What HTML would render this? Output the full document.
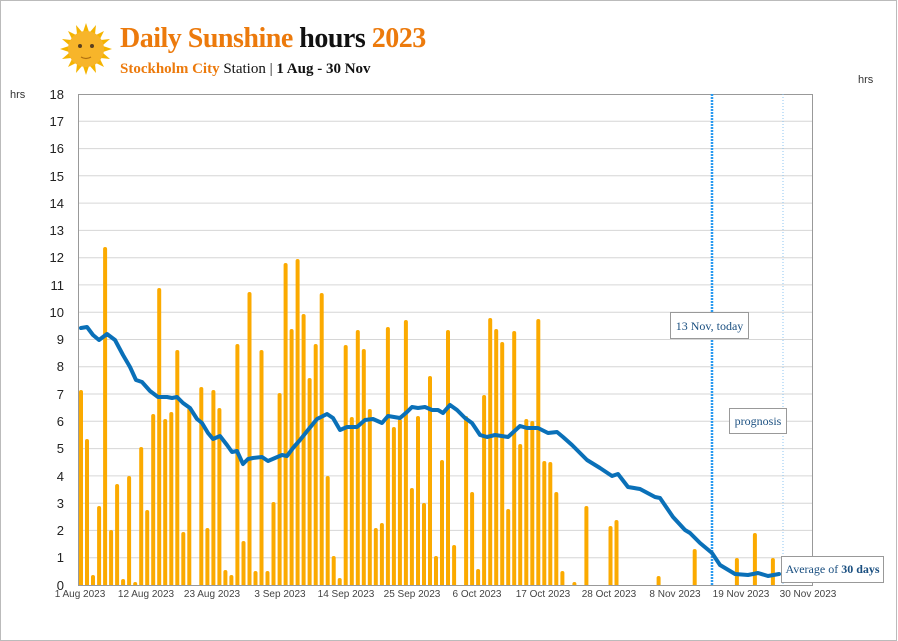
<!DOCTYPE html>
<html><head><meta charset="utf-8"><style>
html,body{margin:0;padding:0;background:#fff;}
svg{display:block;}
</style></head><body>
<svg width="898" height="641" viewBox="0 0 898 641" xmlns="http://www.w3.org/2000/svg">
<rect x="0.5" y="0.5" width="896" height="640" fill="#fff" stroke="#bbb"/>
<g transform="translate(86,49)">
<g fill="#F5B400">
<polygon points="0,-26 3,-17 -3,-17"/><polygon points="0,26 3,17 -3,17"/>
<polygon points="-26,0 -17,3 -17,-3"/><polygon points="26,0 17,3 17,-3"/>
<polygon points="18,-18 14,-10 10,-14"/><polygon points="-18,-18 -14,-10 -10,-14"/>
<polygon points="18,18 14,10 10,14"/><polygon points="-18,18 -14,10 -10,14"/>
<polygon points="10,-24 9,-15 4,-17"/><polygon points="-10,-24 -9,-15 -4,-17"/>
<polygon points="10,24 9,15 4,17"/><polygon points="-10,24 -9,15 -4,17"/>
<polygon points="24,10 15,9 17,4"/><polygon points="-24,10 -15,9 -17,4"/>
<polygon points="24,-10 15,-9 17,-4"/><polygon points="-24,-10 -15,-9 -17,-4"/>
</g>
<circle r="18" fill="#F7B52A"/>
<circle cx="-6" cy="-3" r="2" fill="#5a4020"/><circle cx="6" cy="-3" r="2" fill="#5a4020"/>
<path d="M-5,8 Q0,11 5,8" stroke="#b07010" fill="none" stroke-width="1.2"/>
</g>
<text x="120" y="47" font-family="Liberation Serif, serif" font-weight="bold" font-size="28" fill="#EC7A0C" letter-spacing="-0.5">Daily Sunshine <tspan fill="#111">hours</tspan> 2023</text>
<text x="120" y="73" font-family="Liberation Serif, serif" font-size="15" fill="#111"><tspan fill="#EC7A0C" font-weight="bold">Stockholm City</tspan> Station  |  <tspan font-weight="bold">1 Aug - 30 Nov</tspan></text>
<text x="10" y="98" font-family="Liberation Sans, sans-serif" font-size="11" fill="#333">hrs</text>
<text x="858" y="83" font-family="Liberation Sans, sans-serif" font-size="11" fill="#333">hrs</text>
<g stroke="#d6d6d6" stroke-width="1">
<line x1="78" x2="813" y1="557.7" y2="557.7"/><line x1="78" x2="813" y1="530.4" y2="530.4"/><line x1="78" x2="813" y1="503.2" y2="503.2"/><line x1="78" x2="813" y1="475.9" y2="475.9"/><line x1="78" x2="813" y1="448.6" y2="448.6"/><line x1="78" x2="813" y1="421.3" y2="421.3"/><line x1="78" x2="813" y1="394" y2="394"/><line x1="78" x2="813" y1="366.8" y2="366.8"/><line x1="78" x2="813" y1="339.5" y2="339.5"/><line x1="78" x2="813" y1="312.2" y2="312.2"/><line x1="78" x2="813" y1="284.9" y2="284.9"/><line x1="78" x2="813" y1="257.7" y2="257.7"/><line x1="78" x2="813" y1="230.4" y2="230.4"/><line x1="78" x2="813" y1="203.1" y2="203.1"/><line x1="78" x2="813" y1="175.8" y2="175.8"/><line x1="78" x2="813" y1="148.6" y2="148.6"/><line x1="78" x2="813" y1="121.3" y2="121.3"/>
</g>
<rect x="78.5" y="94.5" width="734" height="491" fill="none" stroke="#999"/>
<g font-family="Liberation Sans, sans-serif" font-size="13" fill="#222" text-anchor="end">
<text x="64" y="590">0</text><text x="64" y="562">1</text><text x="64" y="535">2</text><text x="64" y="508">3</text><text x="64" y="481">4</text><text x="64" y="453">5</text><text x="64" y="426">6</text><text x="64" y="399">7</text><text x="64" y="371">8</text><text x="64" y="344">9</text><text x="64" y="317">10</text><text x="64" y="290">11</text><text x="64" y="262">12</text><text x="64" y="235">13</text><text x="64" y="208">14</text><text x="64" y="181">15</text><text x="64" y="153">16</text><text x="64" y="126">17</text><text x="64" y="99">18</text>
</g>
<g font-family="Liberation Sans, sans-serif" font-size="10" fill="#444" text-anchor="middle">
<text x="80" y="597">1 Aug 2023</text><text x="146" y="597">12 Aug 2023</text><text x="212" y="597">23 Aug 2023</text><text x="280" y="597">3 Sep 2023</text><text x="346" y="597">14 Sep 2023</text><text x="412" y="597">25 Sep 2023</text><text x="477" y="597">6 Oct 2023</text><text x="543" y="597">17 Oct 2023</text><text x="609" y="597">28 Oct 2023</text><text x="675" y="597">8 Nov 2023</text><text x="741" y="597">19 Nov 2023</text><text x="808" y="597">30 Nov 2023</text>
</g>
<g stroke="#FBAA00" stroke-width="4" stroke-linecap="round">
<line x1="81" x2="81" y1="392" y2="585"/>
<line x1="87" x2="87" y1="441" y2="585"/>
<line x1="93" x2="93" y1="577" y2="585"/>
<line x1="99.1" x2="99.1" y1="508" y2="585"/>
<line x1="105.1" x2="105.1" y1="249" y2="585"/>
<line x1="111.1" x2="111.1" y1="532" y2="585"/>
<line x1="117.1" x2="117.1" y1="486" y2="585"/>
<line x1="123.1" x2="123.1" y1="581" y2="585"/>
<line x1="129.1" x2="129.1" y1="478" y2="585"/>
<line x1="135.2" x2="135.2" y1="584" y2="585"/>
<line x1="141.2" x2="141.2" y1="449" y2="585"/>
<line x1="147.2" x2="147.2" y1="512" y2="585"/>
<line x1="153.2" x2="153.2" y1="416" y2="585"/>
<line x1="159.2" x2="159.2" y1="290" y2="585"/>
<line x1="165.2" x2="165.2" y1="421" y2="585"/>
<line x1="171.3" x2="171.3" y1="414" y2="585"/>
<line x1="177.3" x2="177.3" y1="352" y2="585"/>
<line x1="183.3" x2="183.3" y1="534" y2="585"/>
<line x1="189.3" x2="189.3" y1="410" y2="585"/>
<line x1="201.3" x2="201.3" y1="389" y2="585"/>
<line x1="207.4" x2="207.4" y1="530" y2="585"/>
<line x1="213.4" x2="213.4" y1="392" y2="585"/>
<line x1="219.4" x2="219.4" y1="410" y2="585"/>
<line x1="225.4" x2="225.4" y1="572" y2="585"/>
<line x1="231.4" x2="231.4" y1="577" y2="585"/>
<line x1="237.4" x2="237.4" y1="346" y2="585"/>
<line x1="243.5" x2="243.5" y1="543" y2="585"/>
<line x1="249.5" x2="249.5" y1="294" y2="585"/>
<line x1="255.5" x2="255.5" y1="573" y2="585"/>
<line x1="261.5" x2="261.5" y1="352" y2="585"/>
<line x1="267.5" x2="267.5" y1="573" y2="585"/>
<line x1="273.5" x2="273.5" y1="504" y2="585"/>
<line x1="279.6" x2="279.6" y1="395" y2="585"/>
<line x1="285.6" x2="285.6" y1="265" y2="585"/>
<line x1="291.6" x2="291.6" y1="331" y2="585"/>
<line x1="297.6" x2="297.6" y1="261" y2="585"/>
<line x1="303.6" x2="303.6" y1="316" y2="585"/>
<line x1="309.6" x2="309.6" y1="380" y2="585"/>
<line x1="315.7" x2="315.7" y1="346" y2="585"/>
<line x1="321.7" x2="321.7" y1="295" y2="585"/>
<line x1="327.7" x2="327.7" y1="478" y2="585"/>
<line x1="333.7" x2="333.7" y1="558" y2="585"/>
<line x1="339.7" x2="339.7" y1="580" y2="585"/>
<line x1="345.7" x2="345.7" y1="347" y2="585"/>
<line x1="351.8" x2="351.8" y1="419" y2="585"/>
<line x1="357.8" x2="357.8" y1="332" y2="585"/>
<line x1="363.8" x2="363.8" y1="351" y2="585"/>
<line x1="369.8" x2="369.8" y1="411" y2="585"/>
<line x1="375.8" x2="375.8" y1="530" y2="585"/>
<line x1="381.9" x2="381.9" y1="525" y2="585"/>
<line x1="387.9" x2="387.9" y1="329" y2="585"/>
<line x1="393.9" x2="393.9" y1="429" y2="585"/>
<line x1="399.9" x2="399.9" y1="421" y2="585"/>
<line x1="405.9" x2="405.9" y1="322" y2="585"/>
<line x1="411.9" x2="411.9" y1="490" y2="585"/>
<line x1="418" x2="418" y1="418" y2="585"/>
<line x1="424" x2="424" y1="505" y2="585"/>
<line x1="430" x2="430" y1="378" y2="585"/>
<line x1="436" x2="436" y1="558" y2="585"/>
<line x1="442" x2="442" y1="462" y2="585"/>
<line x1="448" x2="448" y1="332" y2="585"/>
<line x1="454.1" x2="454.1" y1="547" y2="585"/>
<line x1="466.1" x2="466.1" y1="418" y2="585"/>
<line x1="472.1" x2="472.1" y1="494" y2="585"/>
<line x1="478.1" x2="478.1" y1="571" y2="585"/>
<line x1="484.1" x2="484.1" y1="397" y2="585"/>
<line x1="490.2" x2="490.2" y1="320" y2="585"/>
<line x1="496.2" x2="496.2" y1="331" y2="585"/>
<line x1="502.2" x2="502.2" y1="344" y2="585"/>
<line x1="508.2" x2="508.2" y1="511" y2="585"/>
<line x1="514.2" x2="514.2" y1="333" y2="585"/>
<line x1="520.2" x2="520.2" y1="446" y2="585"/>
<line x1="526.3" x2="526.3" y1="421" y2="585"/>
<line x1="532.3" x2="532.3" y1="423" y2="585"/>
<line x1="538.3" x2="538.3" y1="321" y2="585"/>
<line x1="544.3" x2="544.3" y1="463" y2="585"/>
<line x1="550.3" x2="550.3" y1="464" y2="585"/>
<line x1="556.3" x2="556.3" y1="494" y2="585"/>
<line x1="562.4" x2="562.4" y1="573" y2="585"/>
<line x1="574.4" x2="574.4" y1="584" y2="585"/>
<line x1="586.4" x2="586.4" y1="508" y2="585"/>
<line x1="610.5" x2="610.5" y1="528" y2="585"/>
<line x1="616.5" x2="616.5" y1="522" y2="585"/>
<line x1="658.6" x2="658.6" y1="578" y2="585"/>
<line x1="694.7" x2="694.7" y1="551" y2="585"/>
<line x1="736.9" x2="736.9" y1="560" y2="585"/>
<line x1="754.9" x2="754.9" y1="535" y2="585"/>
<line x1="772.9" x2="772.9" y1="560" y2="585"/>
</g>
<line x1="712" y1="94" x2="712" y2="585" stroke="#2a9af0" stroke-width="2.5" stroke-dasharray="2,1"/>
<line x1="783" y1="94" x2="783" y2="585" stroke="#8cc4f0" stroke-width="1" stroke-dasharray="1,2"/>
<polyline fill="none" stroke="#0A70B8" stroke-width="4" stroke-linejoin="round" stroke-linecap="round" points="81,328 87,327 93,335 99,340 107,334 115,340 123,355 130,367 136,380 142,382 150,391 158,397 167,397 172,398 177,397 183,403 190,408 197,419 202,423 208,433 213,439 220,436 227,445 232,452 237,451 243,464 248,459 253,458 262,457 268,461 275,458 282,455 287,456 293,448 300,440 308,430 317,419 327,414 333,418 340,430 347,427 357,427 365,420 373,419 382,423 388,416 400,418 407,412 412,407 418,408 425,407 432,410 438,410 443,413 450,405 457,410 465,418 472,423 480,435 487,437 495,435 508,437 520,426 527,428 538,428 548,433 557,432 563,437 572,445 587,460 600,468 612,476 618,474 628,487 640,489 655,497 660,498 673,517 685,530 690,533 700,543 712,553 720,565 735,574 748,575 758,573 768,576 779,574"/>
<rect x="78" y="586" width="735" height="4" fill="#fff"/>
<line x1="78" y1="585.5" x2="813" y2="585.5" stroke="#999"/>
<g font-family="Liberation Serif, serif" font-size="12" fill="#1a4f80">
<rect x="670.5" y="312.5" width="78" height="26" fill="#fff" stroke="#999"/>
<text x="709.5" y="330" text-anchor="middle">13 Nov, today</text>
<rect x="729.5" y="408.5" width="57" height="25" fill="#fff" stroke="#999"/>
<text x="758" y="425" text-anchor="middle">prognosis</text>
<rect x="781.5" y="556.5" width="102" height="26" fill="#fff" stroke="#999"/>
<text x="832.5" y="573" text-anchor="middle">Average of <tspan font-weight="bold">30 days</tspan></text>
</g>
</svg>
</body></html>
